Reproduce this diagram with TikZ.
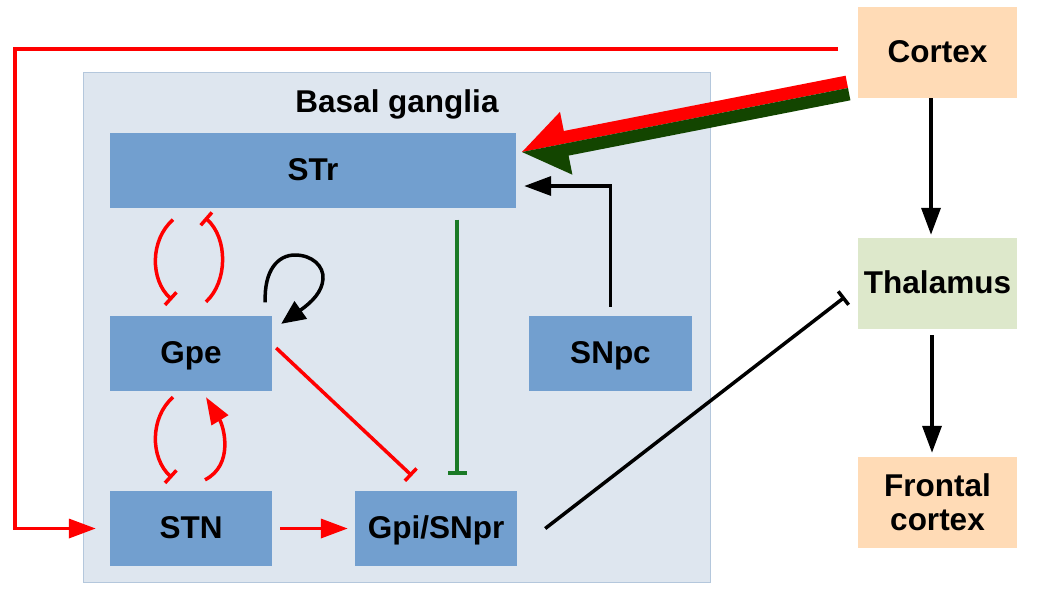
\documentclass[tikz,border=0pt]{standalone}
\usepackage{fontspec}
\setmainfont{Liberation Sans}
\usetikzlibrary{arrows.meta,calc}
\definecolor{boxblue}{HTML}{729FCF}
\definecolor{bgfill}{HTML}{DEE6EF}
\definecolor{bgline}{HTML}{B4C7DC}
\definecolor{cortexfill}{HTML}{FFDBB6}
\definecolor{thalfill}{HTML}{DDE8CB}
\definecolor{inhgreen}{HTML}{1A7A26}
\definecolor{darkgreen}{HTML}{134500}
\newcommand{\lblfont}{\fontsize{31.5}{34}\selectfont\bfseries}
\begin{document}
\begin{tikzpicture}[x=1pt,y=-1pt,
  bgbox/.style={rectangle, fill=bgfill, draw=bgline, line width=1pt, inner sep=0pt, minimum width=627pt, minimum height=510pt},
  unit/.style={rectangle, fill=boxblue, inner sep=0pt, minimum height=75pt, minimum width=162pt, text height=22pt, text depth=2pt, font=\lblfont},
  ext/.style={rectangle, inner sep=0pt, minimum width=159pt, minimum height=91pt, text height=22pt, text depth=2pt, font=\lblfont},
  redinh/.style={draw=red, line width=3.5pt, -{Bar[width=17pt]}},
  redexc/.style={draw=red, line width=3.5pt, line join=miter, -{Triangle[length=27pt,width=19pt]}},
  blkexc/.style={draw=black, line width=3.5pt, line join=miter, -{Triangle[length=27pt,width=19pt]}},
  blkinh/.style={draw=black, line width=3.5pt, -{Bar[width=17pt]}},
  grninh/.style={draw=inhgreen, line width=3.5pt, -{Bar[width=19pt]}}
]
\useasboundingbox (0,0) rectangle (1058,595);

% background of basal ganglia
\node[bgbox] (BG) at (396.5,327) {};
\node[font=\lblfont, anchor=base, inner sep=0pt] (BGtitle) at (397,112) {Basal ganglia};

% units
\node[unit, minimum width=406pt] (STr) at (313,170) {STr};
\node[unit] (Gpe) at (191,353.5) {Gpe};
\node[unit] (STN) at (191,528.5) {STN};
\node[unit] (Gpi) at (436,528.5) {Gpi/SNpr};
\node[unit, minimum width=163pt] (SNpc) at (610.5,353.5) {SNpc};

% external
\node[ext, fill=cortexfill] (Cortex) at (937.5,52.5) {Cortex};
\node[ext, fill=thalfill] (Thal) at (937.5,283.5) {Thalamus};
\node[ext, fill=cortexfill, align=center, text height=, text depth=] (Front) at (937.5,502.5) {Frontal\\cortex};

% cortex -> thalamus -> frontal cortex
\draw[blkexc] ([xshift=-6.5pt]Cortex.south) -- ([xshift=-6.5pt,yshift=3pt]Thal.north);
\draw[blkexc] ([xshift=-5.5pt,yshift=-6pt]Thal.south) -- ([xshift=-5.5pt,yshift=4pt]Front.north);

% cortex -> STN (hyperdirect)
\coordinate (fbStart) at (838,49);
\coordinate (fbA) at (15,49);
\coordinate (fbB) at (15,528.5);
\draw[redexc] (fbStart) -- (fbA) -- (fbB) -- ([xshift=-14pt]STN.west);

% big cortex -> STr arrow
\coordinate (bT) at (522,152);
\coordinate (bB) at (566.2,143.3);
\coordinate (bHr) at (560.0,111.9);
\coordinate (bHg) at (572.4,174.7);
\coordinate (bSr) at (563.8,131.0);
\coordinate (bSg) at (568.6,155.6);
\coordinate (bE) at (848,88);
\coordinate (bEr) at (845.6,75.7);
\coordinate (bEg) at (850.4,100.3);
\fill[red] (bT) -- (bHr) -- (bSr) -- (bEr) -- (bE) -- (bB) -- cycle;
\fill[darkgreen] (bT) -- (bHg) -- (bSg) -- (bEg) -- (bE) -- (bB) -- cycle;

% SNpc -> STr
\draw[blkexc] ([yshift=9pt]SNpc.north) |- ([xshift=8pt,yshift=-16pt]STr.east);

% STr -| Gpi (green)
\draw[grninh] ([xshift=144pt,yshift=-12pt]STr.south) -- ([xshift=21pt,yshift=16pt]Gpi.north);

% STr <-> Gpe
\draw[redinh] ([xshift=-140pt,yshift=-12pt]STr.south) .. controls +(-23,20) and +(-22,-20) .. ([xshift=-19pt,yshift=16pt]Gpe.north);
\draw[redinh] ([xshift=15pt,yshift=14pt]Gpe.north) .. controls +(22,-20) and +(23,20) .. ([xshift=-108pt,yshift=-10pt]STr.south);

% Gpe self loop
\coordinate (loopTop) at (295,255);
\coordinate (loopRight) at (323,279);
\draw[blkexc, -{Triangle[length=24pt,width=21pt]}] ([xshift=-7pt,yshift=13.5pt]Gpe.north east) .. controls (264,270) and (278,255) .. (loopTop) .. controls (312,255) and (324,266) .. (loopRight) .. controls (322,292) and (312,302) .. ([xshift=9pt,yshift=-8pt]Gpe.north east);

% Gpe <-> STN
\draw[redinh] ([xshift=-18pt,yshift=-6pt]Gpe.south) .. controls +(-23,20) and +(-22,-20) .. ([xshift=-19pt,yshift=13pt]STN.north);
\draw[redexc] ([xshift=14pt,yshift=11pt]STN.north) .. controls (234,465) and (224,427) .. ([xshift=15pt,yshift=-6pt]Gpe.south);

% Gpe -| Gpi
\draw[redinh] ([xshift=4pt,yshift=5.5pt]Gpe.east) -- ([xshift=-24pt,yshift=15pt]Gpi.north);

% STN -> Gpi
\draw[redexc] ([xshift=8pt]STN.east) -- ([xshift=-7pt]Gpi.west);

% Gpi -| Thalamus
\draw[blkinh] ([xshift=28pt]Gpi.east) -- ([xshift=-13pt,yshift=-13.5pt]Thal.west);
\end{tikzpicture}
\end{document}
